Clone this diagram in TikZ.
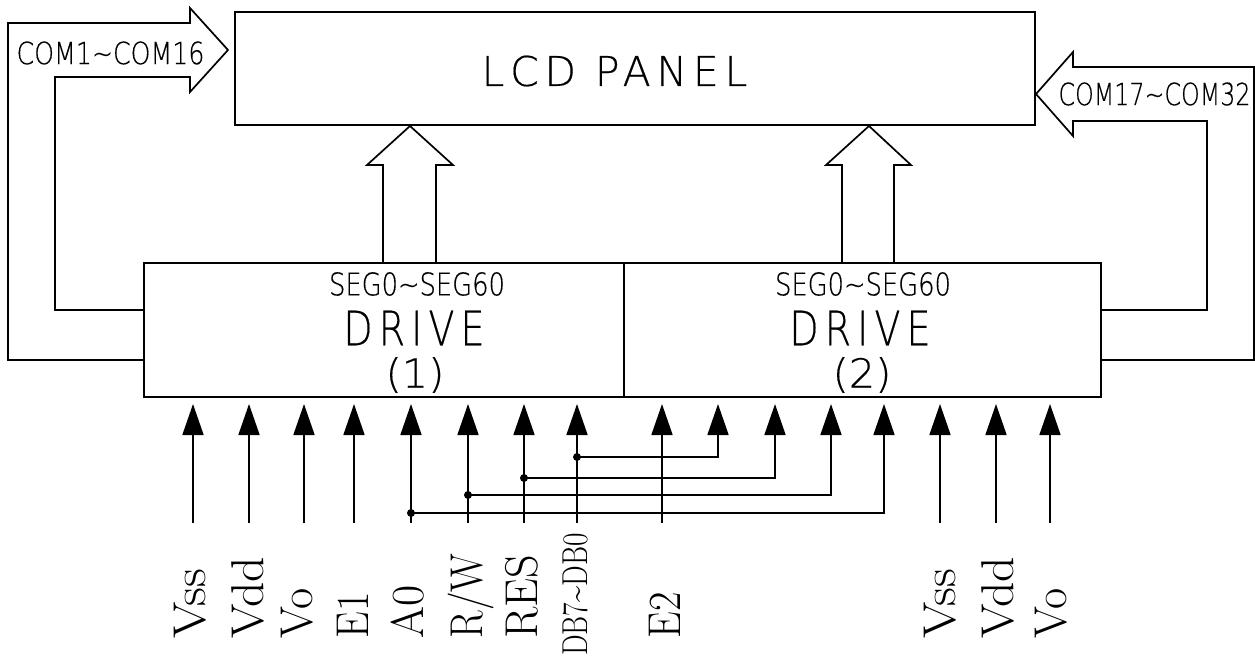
\documentclass[tikz,border=0pt]{standalone}
\usepackage{fontspec}
\usepackage{graphicx}
\newfontfamily\cad[FakeBold=0.4]{DejaVu Sans ExtraLight}
\newfontfamily\cadwide[LetterSpace=14,FakeBold=0.4]{DejaVu Sans ExtraLight}
\newfontfamily\cadmid[LetterSpace=16,FakeBold=0.4]{DejaVu Sans ExtraLight}
\newcommand{\tallcad}[2]{\scalebox{#1}[1.25]{#2}}
\usetikzlibrary{arrows.meta}
\tikzset{
  wire/.style={line width=1.7pt,line join=miter},
  pin/.style={wire,-{Triangle[length=31pt,width=21pt]}},
  boxshape/.style={draw,line width=1.7pt,inner sep=0pt,minimum width=#1},
  vlabel/.style={rotate=90,anchor=base west,inner sep=0pt,font=\fontsize{46}{46}\selectfont},
  dot/.style={circle,fill=black,inner sep=0pt,minimum size=8pt},
  cadtext/.style={inner sep=0pt,font=\cad\fontsize{#1}{#1}\selectfont}
}
\begin{document}
\begin{tikzpicture}[x=1pt,y=-1pt]
\useasboundingbox (0,0) rectangle (1255,659);
% boxes
\node[boxshape=800pt,minimum height=113pt] (lcd) at (635,68.5) {};
\node[boxshape=480pt,minimum height=134pt] (drv1) at (384,330) {};
\node[boxshape=477pt,minimum height=134pt] (drv2) at (862.5,330) {};
% box texts
\node[cadtext=41] (lcdt) at (614.5,71) {\cadwide LCD PANEL};
\node[cadtext=25] (seg1) at (417,284) {\tallcad{1.03}{SEG0\char`~SEG60}};
\node[cadtext=25] (seg2) at (863,284) {\tallcad{1.03}{SEG0\char`~SEG60}};
\node[cadtext=38] (d1) at (414,328) {\tallcad{1}{\cadmid DRIVE}};
\node[cadtext=38] (d2) at (860,328) {\tallcad{1}{\cadmid DRIVE}};
\node[cadtext=32] (n1) at (415,375) {\tallcad{1.3}{(1)}};
\node[cadtext=32] (n2) at (862,375) {\tallcad{1.3}{(2)}};
% COM arrows
\coordinate (la) at (144,360);
\coordinate (lb) at (144,310);
\coordinate (ra) at (1101,360);
\coordinate (rb) at (1101,310);
\draw[wire] (la) -- (8,360) -- (8,23) -- (190,23) -- (190,8) -- (228,50) -- (190,92) -- (190,77) -- (55,77) -- (55,310) -- (lb);
\draw[wire] (ra) -- (1254,360) -- (1254,67) -- (1073,67) -- (1073,52) -- (1036,94) -- (1073,136) -- (1073,121) -- (1207,121) -- (1207,310) -- (rb);
\node[cadtext=24.5] (c1) at (110.5,53) {\tallcad{1.03}{COM1\char`~COM16}};
\node[cadtext=24.5] (c2) at (1154.5,94) {\tallcad{0.97}{COM17\char`~COM32}};
% SEG arrows
\draw[wire] (383,263) -- (383,165) -- (367,165) -- (410,126) -- (453,165) -- (436,165) -- (436,263);
\draw[wire] (842,263) -- (842,165) -- (826,165) -- (869,126) -- (911,165) -- (894,165) -- (894,263);
% pins
\foreach \n/\x in {a/193,b/249,c/304,d/354,e/411,f/468,g/524,h/577,i/662,m/940,n/996,o/1050}{
  \coordinate (s\n) at (\x,523);
  \coordinate (t\n) at (\x,404);
  \draw[pin] (s\n) -- (t\n);
}
% shared bus
\foreach \n/\x/\y/\src/\sx in {j/718/457/h/577,k/775/478/g/524,l/831/495/f/468,p/884/513/e/411}{
  \coordinate (t\n) at (\x,404);
  \node[dot] (dot\n) at (\sx,\y) {};
  \draw[pin] (dot\n.center) -- (\x,\y) -- (t\n);
}
% labels
\node[vlabel] (lva) at (205,638.5) {\scalebox{1.14}[1]{Vss}};
\node[vlabel] (lvb) at (263,638.5) {\scalebox{1.08}[1]{Vdd}};
\node[vlabel] (lvc) at (312,638.5) {Vo};
\node[vlabel] (lvd) at (368,638.5) {\scalebox{.92}[1]{E1}};
\node[vlabel] (lve) at (423,638.5) {A0};
\node[vlabel] (lvf) at (482,638.5) {\scalebox{.88}[1]{R/W}};
\node[vlabel] (lvg) at (537,638.5) {RES};
\node[vlabel,font=\fontsize{36}{36}\selectfont] (lvh) at (587,656) {\scalebox{.81}[1]{DB7\char`~DB0}};
\node[vlabel] (lvi) at (680,638.5) {\scalebox{.92}[1]{E2}};
\node[vlabel] (lvm) at (955,638.5) {\scalebox{1.14}[1]{Vss}};
\node[vlabel] (lvn) at (1013,638.5) {\scalebox{1.08}[1]{Vdd}};
\node[vlabel] (lvo) at (1066,638.5) {Vo};
\end{tikzpicture}
\end{document}
